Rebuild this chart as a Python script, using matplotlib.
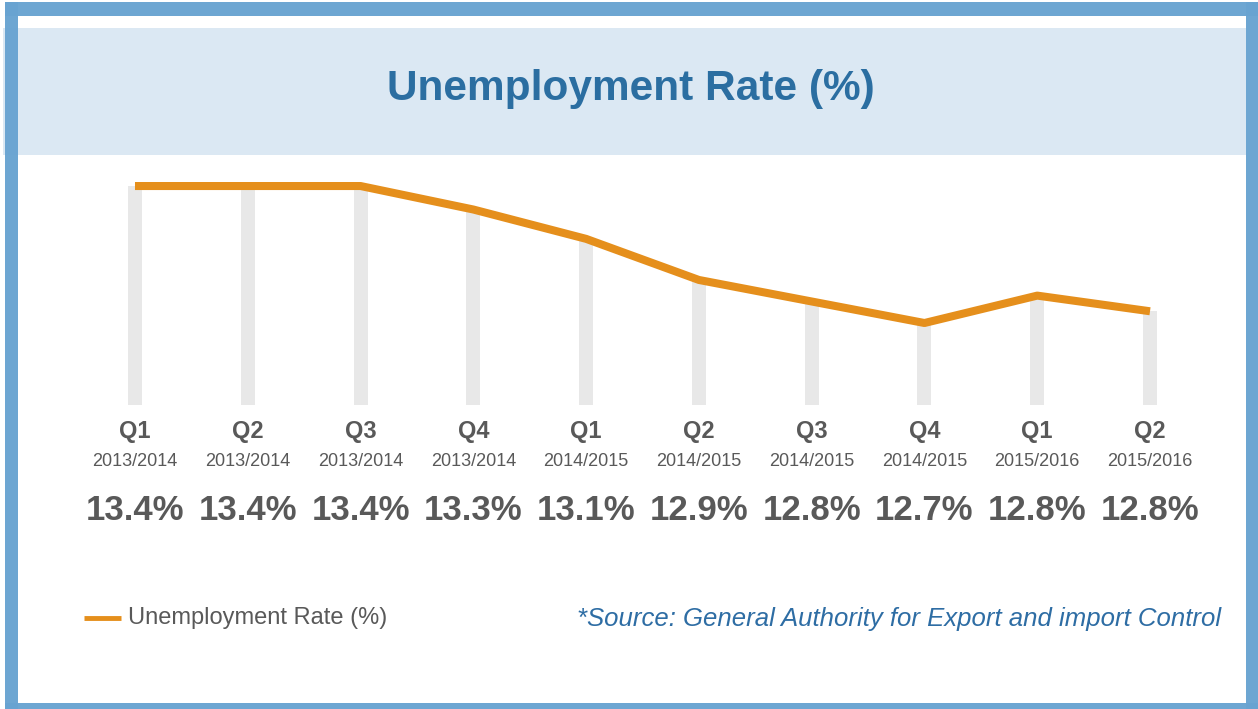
import numpy as np
from matplotlib import pyplot as plt
from matplotlib import transforms
from matplotlib.patches import Rectangle
from matplotlib.lines import Line2D

plt.rcParams['font.family'] = ['Liberation Sans', 'DejaVu Sans']

quarters = ['Q1', 'Q2', 'Q3', 'Q4', 'Q1', 'Q2', 'Q3', 'Q4', 'Q1', 'Q2']
years = ['2013/2014', '2013/2014', '2013/2014', '2013/2014', '2014/2015',
         '2014/2015', '2014/2015', '2014/2015', '2015/2016', '2015/2016']
rate = [13.4, 13.4, 13.4, 13.28, 13.13, 12.92, 12.81, 12.70, 12.84, 12.76]
rate_labels = ['13.4%', '13.4%', '13.4%', '13.3%', '13.1%',
               '12.9%', '12.8%', '12.7%', '12.8%', '12.8%']

W, H = 1258, 709
fig = plt.figure(figsize=(W / 100, H / 100), dpi=100)
fig.patch.set_facecolor('white')

def fx(px):
    return px / W

def fy(py):
    return 1 - py / H

blue = '#68a3d1'
orange = '#e58f1c'
grey_txt = '#595959'

# header band
fig.patches.append(Rectangle((fx(3), fy(155)), fx(1246) - fx(3), fy(28) - fy(155),
                             transform=fig.transFigure, facecolor='#dbe8f3',
                             edgecolor='none', zorder=0))
# frame
for (x0, y0, x1, y1) in [(5, 2, 1258, 16), (5, 2, 18, 709), (1246, 2, 1258, 709), (5, 703, 1258, 709)]:
    fig.patches.append(Rectangle((fx(x0), fy(y1)), fx(x1) - fx(x0), fy(y0) - fy(y1),
                                 transform=fig.transFigure, facecolor=blue,
                                 edgecolor='none', alpha=0.97, zorder=1))

fig.text(fx(631), fy(89), 'Unemployment Rate (%)', ha='center', va='center',
         fontsize=30.5, fontweight='bold', color='#2b6ea1')

# plot area
left, right = 78.6, 1206.4
top, bottom = 160, 405
ax = fig.add_axes([fx(left), fy(bottom), fx(right) - fx(left), fy(top) - fy(bottom)])
ax.set_facecolor('none')
base = 12.281
ax.set_xlim(-0.5, 9.5)
ax.set_ylim(base, 13.533)
ax.axis('off')

x = np.arange(len(rate))
ax.bar(x, np.array(rate) - base, bottom=base, width=0.125, color='#e8e8e8', zorder=1)
ax.plot(x, rate, color=orange, linewidth=5.8, solid_joinstyle='round',
        solid_capstyle='butt', zorder=2, clip_on=False)

tr = transforms.blended_transform_factory(ax.transData, fig.transFigure)
for i in range(len(rate)):
    ax.text(x[i], fy(431), quarters[i], transform=tr, ha='center', va='center',
            fontsize=17, fontweight='bold', color=grey_txt)
    ax.text(x[i], fy(462), years[i], transform=tr, ha='center', va='center',
            fontsize=13, color=grey_txt)
    ax.text(x[i], fy(511), rate_labels[i], transform=tr, ha='center', va='center',
            fontsize=25, fontweight='bold', color=grey_txt)

# legend
fig.lines.append(Line2D([fx(84), fx(121)], [fy(618), fy(618)], transform=fig.transFigure,
                        color=orange, linewidth=3.5, solid_capstyle='butt'))
fig.text(fx(128), fy(618), 'Unemployment Rate (%)', ha='left', va='center',
         fontsize=17, color=grey_txt)

fig.text(fx(1221), fy(619), '*Source: General Authority for Export and import Control',
         ha='right', va='center', fontsize=18.5, style='italic', color='#2e6da4')

fig.savefig('out.png', dpi=100, facecolor='white')
